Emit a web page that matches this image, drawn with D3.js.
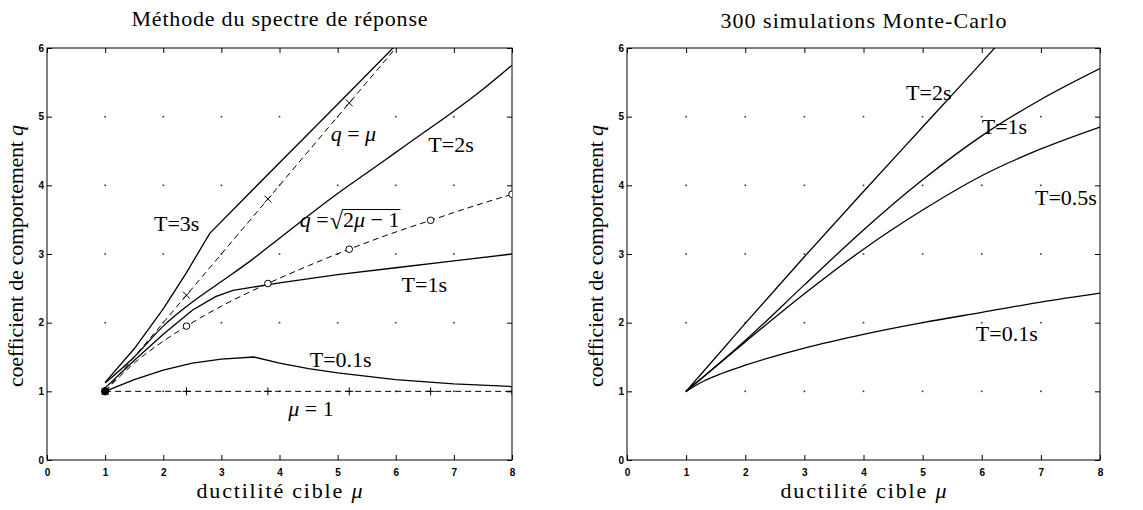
<!DOCTYPE html>
<html><head><meta charset="utf-8">
<script src="https://cdn.jsdelivr.net/npm/d3@7"></script>
<style>body{margin:0;background:#fff}</style>
</head><body>
<svg id="c" width="1143" height="510"></svg>
<script>
// ---------- data ----------
const xTicks = [0,1,2,3,4,5,6,7,8];
const yTicks = [0,1,2,3,4,5,6];
const titles = ["Méthode du spectre de réponse", "300 simulations Monte-Carlo"];

// left panel : response-spectrum method
const lT3Mu  = [1, 1.5, 2, 2.4, 2.8, 4, 5, 6, 6.3];
const lT3Q   = [1.13, 1.62, 2.2, 2.73, 3.3, 4.33, 5.18, 6.04, 6.3];
const lT2Mu  = [1, 1.5, 2, 2.5, 3, 3.5, 4, 4.5, 5, 5.5, 6, 6.5, 7, 7.5, 8];
const lT2Q   = [1.12, 1.5, 1.95, 2.3, 2.6, 2.9, 3.23, 3.56, 3.88, 4.18, 4.48, 4.78, 5.08, 5.4, 5.75];
const lT1Mu  = [1, 1.5, 2, 2.5, 2.9, 3.2, 4, 5, 6, 7, 8];
const lT1Q   = [1.05, 1.45, 1.83, 2.18, 2.38, 2.47, 2.58, 2.7, 2.8, 2.9, 3.0];
const lT01Mu = [1, 1.5, 2, 2.5, 3, 3.56, 4, 4.5, 5, 6, 7, 8];
const lT01Q  = [1.0, 1.17, 1.31, 1.41, 1.47, 1.5, 1.41, 1.33, 1.27, 1.17, 1.11, 1.07];
// reference rules
const refEqMu   = [1, 6.2];
const refEqQ    = [1, 6.2];
const refSqMu   = [1, 1.5, 2, 2.4, 3, 3.8, 4.5, 5.2, 6, 6.6, 7.2, 8];
const refSqQ    = [1, 1.41, 1.73, 1.95, 2.24, 2.57, 2.83, 3.07, 3.32, 3.49, 3.66, 3.87];
const refOneMu  = [1, 8];
const refOneQ   = [1, 1];
const markMu    = [1, 2.4, 3.8, 5.2, 6.6, 8];
const markEqQ   = [1, 2.4, 3.8, 5.2];
const markSqQ   = [1, 1.95, 2.57, 3.07, 3.49, 3.87];
const markOneQ  = [1, 1, 1, 1, 1, 1];

// right panel : 300 Monte-Carlo simulations
const rT2Mu  = [1, 2, 3, 4, 5, 6, 6.3];
const rT2Q   = [1, 1.99, 2.96, 3.91, 4.85, 5.79, 6.08];
const rT1Mu  = [1, 2, 3, 4, 5, 6, 7, 8];
const rT1Q   = [1, 1.74, 2.55, 3.35, 4.08, 4.72, 5.25, 5.7];
const rT05Mu = [1, 2, 3, 4, 5, 6, 7, 8];
const rT05Q  = [1, 1.72, 2.42, 3.07, 3.64, 4.14, 4.53, 4.85];
const rT01Mu = [1, 1.3, 1.6, 2, 3, 4, 5, 6, 7, 8];
const rT01Q  = [1, 1.15, 1.26, 1.38, 1.63, 1.83, 2.0, 2.15, 2.3, 2.43];

// ---------- layout ----------
const svg = d3.select("#c");
svg.append("rect").attr("width",1143).attr("height",510).attr("fill","#fff");
const serif = "'Liberation Serif','DejaVu Serif',serif";
const sans = "'Liberation Sans',Arial,sans-serif";
const FS = 22;
const y = d3.scaleLinear().domain([0,6]).range([460,48]);
const xLeft  = d3.scaleLinear().domain([0,8]).range([47,512]);
const xRight = d3.scaleLinear().domain([0,8]).range([627,1100]);
const zip = (a,b) => a.map((v,i)=>[v,b[i]]);

function panel(x, id, title, titleY, titleW) {
  const g = svg.append("g");
  const [x0,x1] = x.range(), [y0,y1] = [y(0), y(6)];
  g.append("clipPath").attr("id",id).append("rect")
    .attr("x",x0).attr("y",y1).attr("width",x1-x0).attr("height",y0-y1);
  // grid dots
  const pts = [];
  xTicks.slice(1,-1).forEach(a => yTicks.slice(1,-1).forEach(b => pts.push([a,b])));
  g.selectAll(".gd").data(pts).join("rect")
    .attr("x",d=>x(d[0])-0.8).attr("y",d=>y(d[1])-0.8).attr("width",1.6).attr("height",1.6).attr("fill","#333");
  // axes with inward ticks
  const style = s => s.call(a=>a.select(".domain").remove())
     .call(a=>a.selectAll("line").attr("stroke","#000"))
     .call(a=>a.selectAll("text").attr("font-family",sans).attr("font-size",10).attr("font-weight","bold").attr("fill","#000"));
  g.append("g").attr("transform",`translate(0,${y0})`)
    .call(d3.axisBottom(x).tickValues(xTicks).tickSize(-5).tickPadding(9).tickFormat(d3.format("d"))).call(style);
  g.append("g").attr("transform",`translate(0,${y1})`)
    .call(d3.axisTop(x).tickValues(xTicks).tickSize(-5).tickFormat("")).call(style);
  g.append("g").attr("transform",`translate(${x0},0)`)
    .call(d3.axisLeft(y).tickValues(yTicks).tickSize(-5).tickPadding(3).tickFormat(d3.format("d"))).call(style);
  g.append("g").attr("transform",`translate(${x1},0)`)
    .call(d3.axisRight(y).tickValues(yTicks).tickSize(-5).tickFormat("")).call(style);
  g.append("rect").attr("x",x0).attr("y",y1).attr("width",x1-x0).attr("height",y0-y1)
    .attr("fill","none").attr("stroke","#000").attr("stroke-width",1);
  // titles
  g.append("text").attr("x",(x0+x1)/2).attr("y",titleY).attr("text-anchor","middle")
    .attr("font-family",serif).attr("font-size",FS)
    .attr("textLength",titleW).attr("lengthAdjust","spacing").text(title);
  const xl = g.append("text").attr("x",(x0+x1)/2).attr("y",498).attr("text-anchor","middle")
    .attr("font-family",serif).attr("font-size",FS).attr("textLength",166).attr("lengthAdjust","spacing");
  xl.append("tspan").text("ductilité cible ");
  xl.append("tspan").attr("font-style","italic").text("μ");
  const yl = g.append("text").attr("transform",`translate(${x0-24},${(y0+y1)/2+2}) rotate(-90)`)
    .attr("text-anchor","middle").attr("font-family",serif).attr("font-size",FS)
    .attr("textLength",262).attr("lengthAdjust","spacing");
  yl.append("tspan").text("coefficient de comportement ");
  yl.append("tspan").attr("font-style","italic").text("q");
  const plot = g.append("g").attr("clip-path",`url(#${id})`);
  return {g, plot, x};
}

function curve(P, mu, q, opt={}) {
  const line = d3.line().x(d=>P.x(d[0])).y(d=>y(d[1])).curve(opt.smooth ? d3.curveMonotoneX : d3.curveLinear);
  P.plot.append("path").datum(zip(mu,q)).attr("d",line)
    .attr("fill","none").attr("stroke","#000").attr("stroke-width",opt.w||1.3)
    .attr("stroke-dasharray",opt.dash||null);
}
function markers(P, mu, q, shape) {
  const sel = P.plot.selectAll(null).data(zip(mu,q)).join(shape==="o"?"circle":"path")
    .attr("fill","none").attr("stroke","#000").attr("stroke-width",1);
  if (shape==="o") sel.attr("cx",d=>P.x(d[0])).attr("cy",d=>y(d[1])).attr("r",3.3).attr("fill","#fff");
  else sel.attr("transform",d=>`translate(${P.x(d[0])},${y(d[1])})`)
    .attr("d", shape==="x" ? "M-3.5,-3.5L3.5,3.5M-3.5,3.5L3.5,-3.5" : "M-4,0H4M0,-4V4");
}
function label(P, mx, qy, parts) {
  const t = P.g.append("text").attr("x",P.x(mx)).attr("y",y(qy))
    .attr("font-family",serif).attr("font-size",FS);
  parts.forEach(p => { const s=t.append("tspan").text(p[0]); if(p[1]) s.attr("font-style","italic"); });
  return t;
}

// ---------- left panel ----------
const L = panel(xLeft, "clipL", titles[0], 26, 296);
curve(L, refOneMu, refOneQ, {dash:"6,4", w:1});
curve(L, refSqMu, refSqQ, {dash:"6,4", w:1, smooth:true});
curve(L, refEqMu, refEqQ, {dash:"6,4", w:1});
curve(L, lT3Mu, lT3Q);
curve(L, lT2Mu, lT2Q, {smooth:true});
curve(L, lT1Mu, lT1Q);
curve(L, lT01Mu, lT01Q);
markers(L, markMu, markOneQ, "+");
markers(L, markMu.slice(0,4), markEqQ, "x");
markers(L, markMu, markSqQ, "o");
L.plot.append("circle").attr("cx",xLeft(markMu[0])).attr("cy",y(markOneQ[0])).attr("r",4).attr("fill","#000");

label(L, 1.84, 3.33, [["T=3s"]]);
label(L, 4.88, 4.65, [["q",1],[" = "],["μ",1]]);
label(L, 6.56, 4.48, [["T=2s"]]);
label(L, 6.1, 2.45, [["T=1s"]]);
label(L, 4.52, 1.36, [["T=0.1s"]]);
label(L, 4.15, 0.64, [["μ",1],[" = 1"]]);
// q = sqrt(2mu-1)
(function(){
  const x0 = xLeft(4.35), yb = y(3.4);
  const t = L.g.append("text").attr("x",x0).attr("y",yb).attr("font-family",serif).attr("font-size",FS);
  t.append("tspan").attr("font-style","italic").text("q");
  t.append("tspan").text(" = ");
  const w1 = t.node().getComputedTextLength() + 1;
  const r = L.g.append("text").attr("x",x0+w1).attr("y",yb+2).attr("font-family",serif).attr("font-size",FS+2).text("√");
  const w2 = r.node().getComputedTextLength();
  const a = L.g.append("text").attr("x",x0+w1+w2).attr("y",yb).attr("font-family",serif).attr("font-size",FS);
  a.append("tspan").text("2");
  a.append("tspan").attr("font-style","italic").text("μ");
  a.append("tspan").text(" − 1");
  const w3 = a.node().getComputedTextLength();
  L.g.append("line").attr("x1",x0+w1+w2-1).attr("x2",x0+w1+w2+w3+1).attr("y1",yb-17).attr("y2",yb-17)
    .attr("stroke","#000").attr("stroke-width",1);
})();

// ---------- right panel ----------
const R = panel(xRight, "clipR", titles[1], 28, 286);
curve(R, rT2Mu, rT2Q, {smooth:true});
curve(R, rT1Mu, rT1Q, {smooth:true});
curve(R, rT05Mu, rT05Q, {smooth:true});
curve(R, rT01Mu, rT01Q, {smooth:true});
label(R, 4.72, 5.25, [["T=2s"]]);
label(R, 6.0, 4.75, [["T=1s"]]);
label(R, 6.9, 3.72, [["T=0.5s"]]);
label(R, 5.9, 1.74, [["T=0.1s"]]);
</script>
</body></html>
